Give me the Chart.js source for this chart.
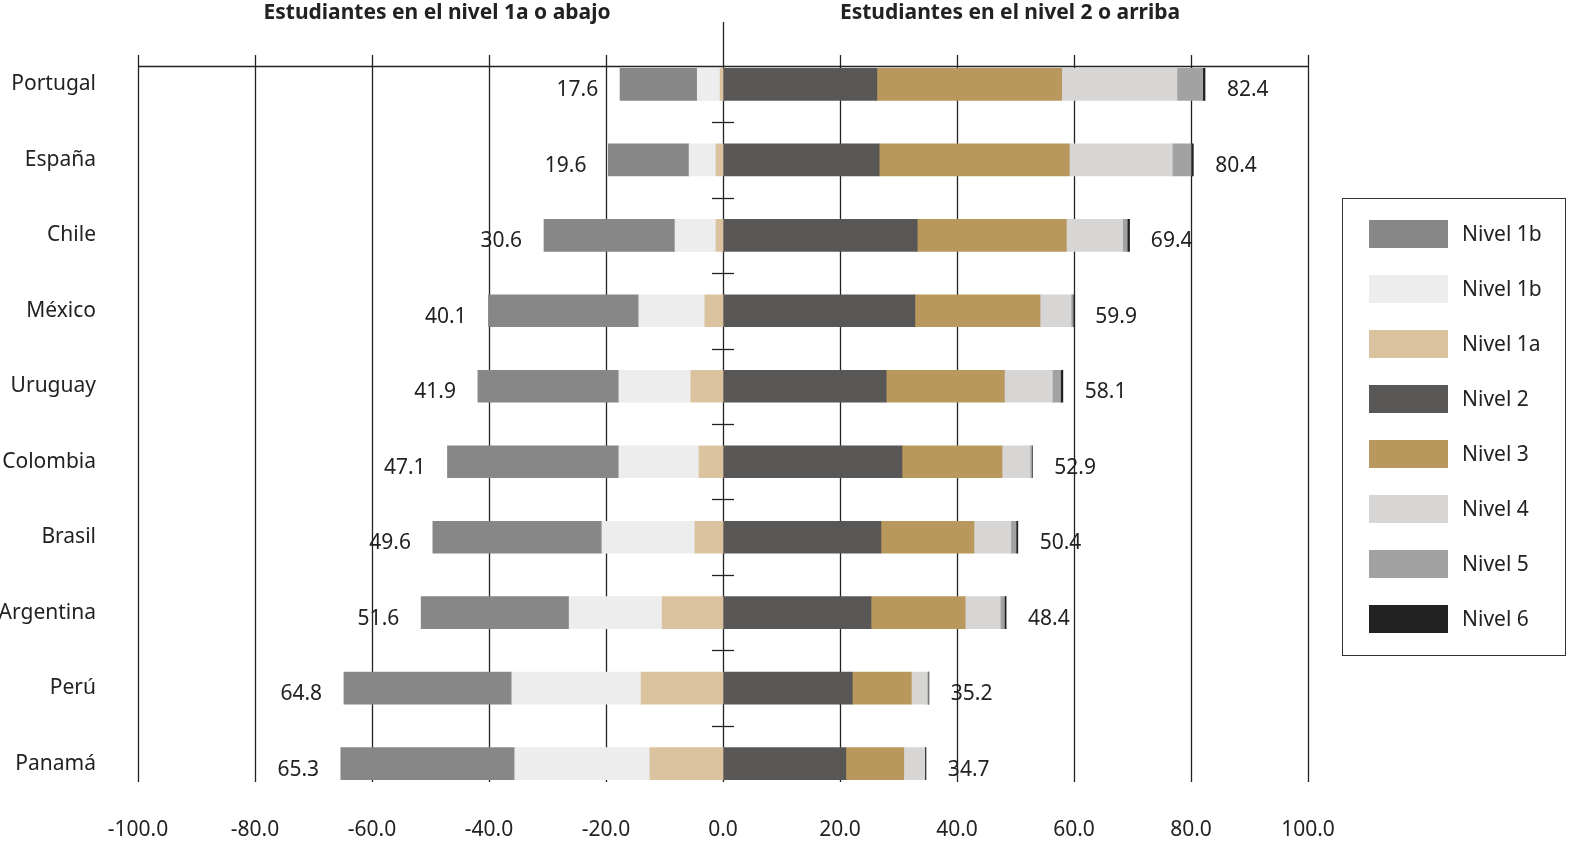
<!DOCTYPE html>
<html>
<head>
<meta charset="utf-8">
<script src="https://cdn.jsdelivr.net/npm/chart.js@4/dist/chart.umd.min.js"></script>
<style>
  body { margin: 0; background: #fff; font-family: "Noto Sans", sans-serif; }
  #wrap { position: relative; width: 1575px; height: 848px; }
  #legend { position: absolute; left: 1342px; top: 198px; width: 224px; height: 458px; border: 1px solid #333; box-sizing: border-box; }
  .item { position: absolute; left: 26px; height: 28px; font-size: 21px; color: #222; }
  .sw { position: absolute; left: 0; top: 0; width: 79px; height: 28px; }
  .lb { position: absolute; left: 93px; top: -1px; white-space: nowrap; }
</style>
</head>
<body>
<div id="wrap">
  <canvas id="c" width="1575" height="848"></canvas>
  <div id="legend"></div>
</div>
<script>
const countries = ['Portugal', 'España', 'Chile', 'México', 'Uruguay', 'Colombia', 'Brasil', 'Argentina', 'Perú', 'Panamá'];
// below level 2 (shown to the left)
const nivel1a   = [0.5, 1.2, 1.2, 3.1, 5.5, 4.1, 4.8, 10.4, 14.0, 12.5];
const nivel1bL  = [3.9, 4.6, 7.0, 11.3, 12.3, 13.7, 15.9, 15.9, 22.1, 23.1];
const nivel1bD  = [13.2, 13.8, 22.4, 25.7, 24.1, 29.3, 28.9, 25.3, 28.7, 29.7];
// level 2 and above (shown to the right)
const nivel2 = [26.3, 26.7, 33.2, 32.8, 27.9, 30.6, 27.0, 25.3, 22.1, 21.0];
const nivel3 = [31.6, 32.5, 25.5, 21.4, 20.2, 17.1, 15.9, 16.1, 10.1, 9.9];
const nivel4 = [19.7, 17.6, 9.6, 5.3, 8.2, 4.8, 6.3, 6.0, 2.7, 3.6];
const nivel5 = [4.4, 3.2, 0.8, 0.3, 1.4, 0.3, 0.9, 0.7, 0.2, 0.0];
const nivel6 = [0.4, 0.4, 0.4, 0.1, 0.4, 0.1, 0.3, 0.3, 0.1, 0.2];
const totalBelow = [17.6, 19.6, 30.6, 40.1, 41.9, 47.1, 49.6, 51.6, 64.8, 65.3];
const totalAbove = [82.4, 80.4, 69.4, 59.9, 58.1, 52.9, 50.4, 48.4, 35.2, 34.7];
const xTicks = [-100, -80, -60, -40, -20, 0, 20, 40, 60, 80, 100];

const neg = a => a.map(v => -v);
const datasets = [
  { label: 'Nivel 1a', data: neg(nivel1a), backgroundColor: '#dcc39f', legendPos: 2 },
  { label: 'Nivel 1b', data: neg(nivel1bL), backgroundColor: '#ededed', legendPos: 1 },
  { label: 'Nivel 1b', data: neg(nivel1bD), backgroundColor: '#878787', legendPos: 0 },
  { label: 'Nivel 2', data: nivel2, backgroundColor: '#595755', legendPos: 3 },
  { label: 'Nivel 3', data: nivel3, backgroundColor: '#b8985c', legendPos: 4 },
  { label: 'Nivel 4', data: nivel4, backgroundColor: '#d7d6d5', legendPos: 5 },
  { label: 'Nivel 5', data: nivel5, backgroundColor: '#a2a2a2', legendPos: 6 },
  { label: 'Nivel 6', data: nivel6, backgroundColor: '#222222', legendPos: 7 }
];

// html legend
const legend = document.getElementById('legend');
datasets.forEach(ds => {
  const it = document.createElement('div');
  it.className = 'item';
  it.style.top = (21 + ds.legendPos * 55) + 'px';
  it.innerHTML = '<div class="sw" style="background:' + ds.backgroundColor + '"></div><div class="lb">' + ds.label + '</div>';
  legend.appendChild(it);
});

const decor = {
  id: 'decor',
  beforeDatasetsDraw(chart) {
    const ctx = chart.ctx, x = chart.scales.x, ca = chart.chartArea;
    ctx.save();
    ctx.strokeStyle = '#222';
    ctx.lineWidth = 1.3;
    xTicks.forEach(t => {
      const px = Math.round(x.getPixelForValue(t)) + 0.5;
      ctx.beginPath();
      ctx.moveTo(px, t === 0 ? 22 : 55);
      ctx.lineTo(px, 782);
      ctx.stroke();
    });
    ctx.beginPath();
    ctx.moveTo(x.getPixelForValue(-100), 66.5);
    ctx.lineTo(x.getPixelForValue(100), 66.5);
    ctx.stroke();
    const zero = x.getPixelForValue(0);
    const step = (ca.bottom - ca.top) / countries.length;
    for (let i = 1; i < countries.length; i++) {
      const py = Math.round(ca.top + i * step) + 0.5;
      ctx.beginPath();
      ctx.moveTo(zero - 11, py);
      ctx.lineTo(zero + 11, py);
      ctx.stroke();
    }
    ctx.restore();
  },
  afterDatasetsDraw(chart) {
    const ctx = chart.ctx, x = chart.scales.x, y = chart.scales.y;
    ctx.save();
    ctx.fillStyle = '#222';
    ctx.font = '21px "Noto Sans"';
    ctx.textAlign = 'center';
    ctx.textBaseline = 'middle';
    countries.forEach((c, i) => {
      const py = y.getPixelForValue(i) + 6;
      ctx.fillText(totalBelow[i].toFixed(1), x.getPixelForValue(-totalBelow[i] - 7.3), py);
      ctx.fillText(totalAbove[i].toFixed(1), x.getPixelForValue(totalAbove[i] + 7.3), py);
    });
    ctx.font = 'bold 21px "Noto Sans"';
    ctx.fillText('Estudiantes en el nivel 1a o abajo', 437, 13);
    ctx.fillText('Estudiantes en el nivel 2 o arriba', 1010, 13);
    ctx.restore();
  }
};

new Chart(document.getElementById('c'), {
  type: 'bar',
  data: { labels: countries, datasets: datasets },
  options: {
    indexAxis: 'y',
    responsive: false,
    animation: false,
    layout: { padding: { top: 45, right: 267, bottom: 0, left: 0 } },
    datasets: { bar: { barThickness: 32, categoryPercentage: 1, barPercentage: 1 } },
    plugins: { legend: { display: false }, tooltip: { enabled: false } },
    scales: {
      x: {
        min: -100, max: 100, stacked: true,
        afterBuildTicks: s => { s.ticks = xTicks.map(v => ({ value: v })); },
        afterFit: s => { s.height = 43; },
        grid: { display: false },
        border: { display: false },
        ticks: { color: '#222', font: { size: 21, family: 'Noto Sans' }, padding: 8, maxRotation: 0, callback: v => v.toFixed(1) }
      },
      y: {
        stacked: true,
        afterFit: s => { s.width = 138; },
        grid: { display: false },
        border: { display: false },
        ticks: { color: '#222', font: { size: 21, family: 'Noto Sans' }, padding: 34 }
      }
    }
  },
  plugins: [decor]
});
</script>
</body>
</html>
